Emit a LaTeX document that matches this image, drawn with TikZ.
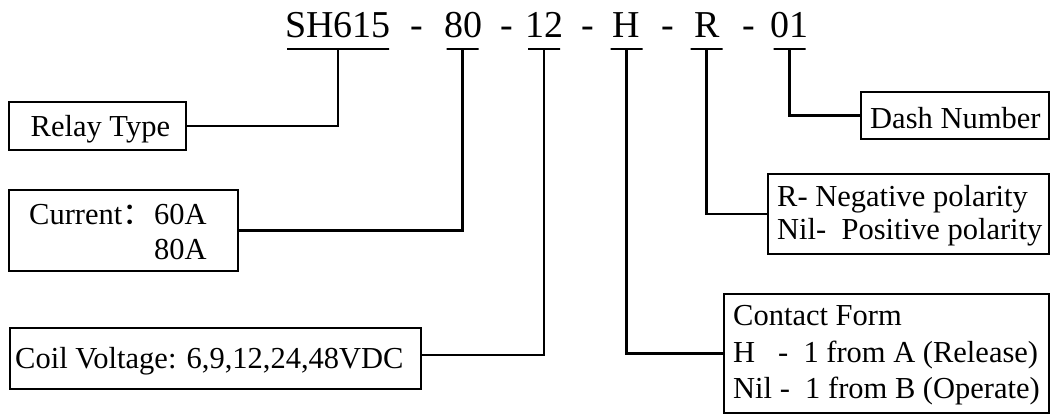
\documentclass[tikz,border=0pt]{standalone}
\usepackage{fontspec}
\setmainfont{Liberation Serif}
\newfontfamily\cjkfont{Noto Sans CJK SC}
\begin{document}
\begin{tikzpicture}[x=1pt, y=-1pt, line width=2.4pt,
  box/.style={draw, rectangle, inner sep=0pt},
  txt/.style={anchor=base west, inner sep=0pt, font=\fontsize{30.5}{36}\selectfont},
  ttl/.style={anchor=base, inner sep=0pt, font=\fontsize{38}{44}\selectfont},
  uline/.style={draw, rectangle, inner sep=0pt, outer sep=0pt, minimum height=0pt, minimum width=32pt},
  wire/.style={draw, line width=2.4pt}]
\useasboundingbox (0,0) rectangle (1051,418);

% title
\node[ttl] (tSH) at (338,37) {SH615};
\node[ttl] (tD1) at (417,37) {-};
\node[ttl] (t80) at (463,37) {80};
\node[ttl] (tD2) at (507,37) {-};
\node[ttl] (t12) at (544,37) {12};
\node[ttl] (tD3) at (588,37) {-};
\node[ttl] (tH)  at (626,37) {H};
\node[ttl] (tD4) at (668,37) {-};
\node[ttl] (tR)  at (707,37) {R};
\node[ttl] (tD5) at (749,37) {-};
\node[ttl] (t01) at (789,37) {01};

% underlines
\node[uline, minimum width=102pt] (u1) at (338,49) {};
\node[uline] (u2) at (462.5,49) {};
\node[uline] (u3) at (544,49) {};
\node[uline] (u4) at (626.5,49) {};
\node[uline] (u5) at (706.5,49) {};
\node[uline] (u6) at (789.5,49) {};

% boxes
\node[box, minimum width=177pt, minimum height=48pt] (relay) at (97.5,126) {};
\node[box, minimum width=229pt, minimum height=81pt] (current) at (123.5,230.5) {};
\node[box, minimum width=411pt, minimum height=61pt] (coil) at (215.5,358.5) {};
\node[box, minimum width=188pt, minimum height=47pt] (dashbox) at (955,115.5) {};
\node[box, minimum width=281pt, minimum height=80pt] (rbox) at (908.5,214) {};
\node[box, minimum width=325pt, minimum height=119pt] (contact) at (886.5,353.5) {};

% texts
\node[txt] (xrelay) at (29.5,136) {Relay Type};
\node[txt] (xcur) at (28,224) {Current{\cjkfont ：}};
\node[txt] (x60) at (153,224) {60A};
\node[txt] (x80) at (153,259) {80A};
\node[txt] (xcoil) at (14,368) {Coil Voltage: 6,9,12,24,48VDC};
\node[txt] (xdash) at (869,128) {Dash Number};
\node[txt] (xr1) at (776,206) {R- Negative polarity};
\node[txt] (xr2) at (776,239) {Nil-\ \ Positive polarity};
\node[txt] (xc1) at (732,325) {Contact Form};
\node[txt] (xc2) at (732,362) {H\ \ \ -\ \ 1 from A (Release)};
\node[txt] (xc3) at (732,398) {Nil -\ \ 1 from B (Operate)};

% connectors
\draw[wire] (relay.east) -| (u1.south);
\draw[wire] (current.east) -| (u2.south);
\draw[wire] ([yshift=3.5pt]coil.east) -| (u3.south);
\draw[wire] (contact.west) -| (u4.south);
\draw[wire] (rbox.west) -| (u5.south);
\draw[wire] (dashbox.west) -| (u6.south);
\end{tikzpicture}
\end{document}
